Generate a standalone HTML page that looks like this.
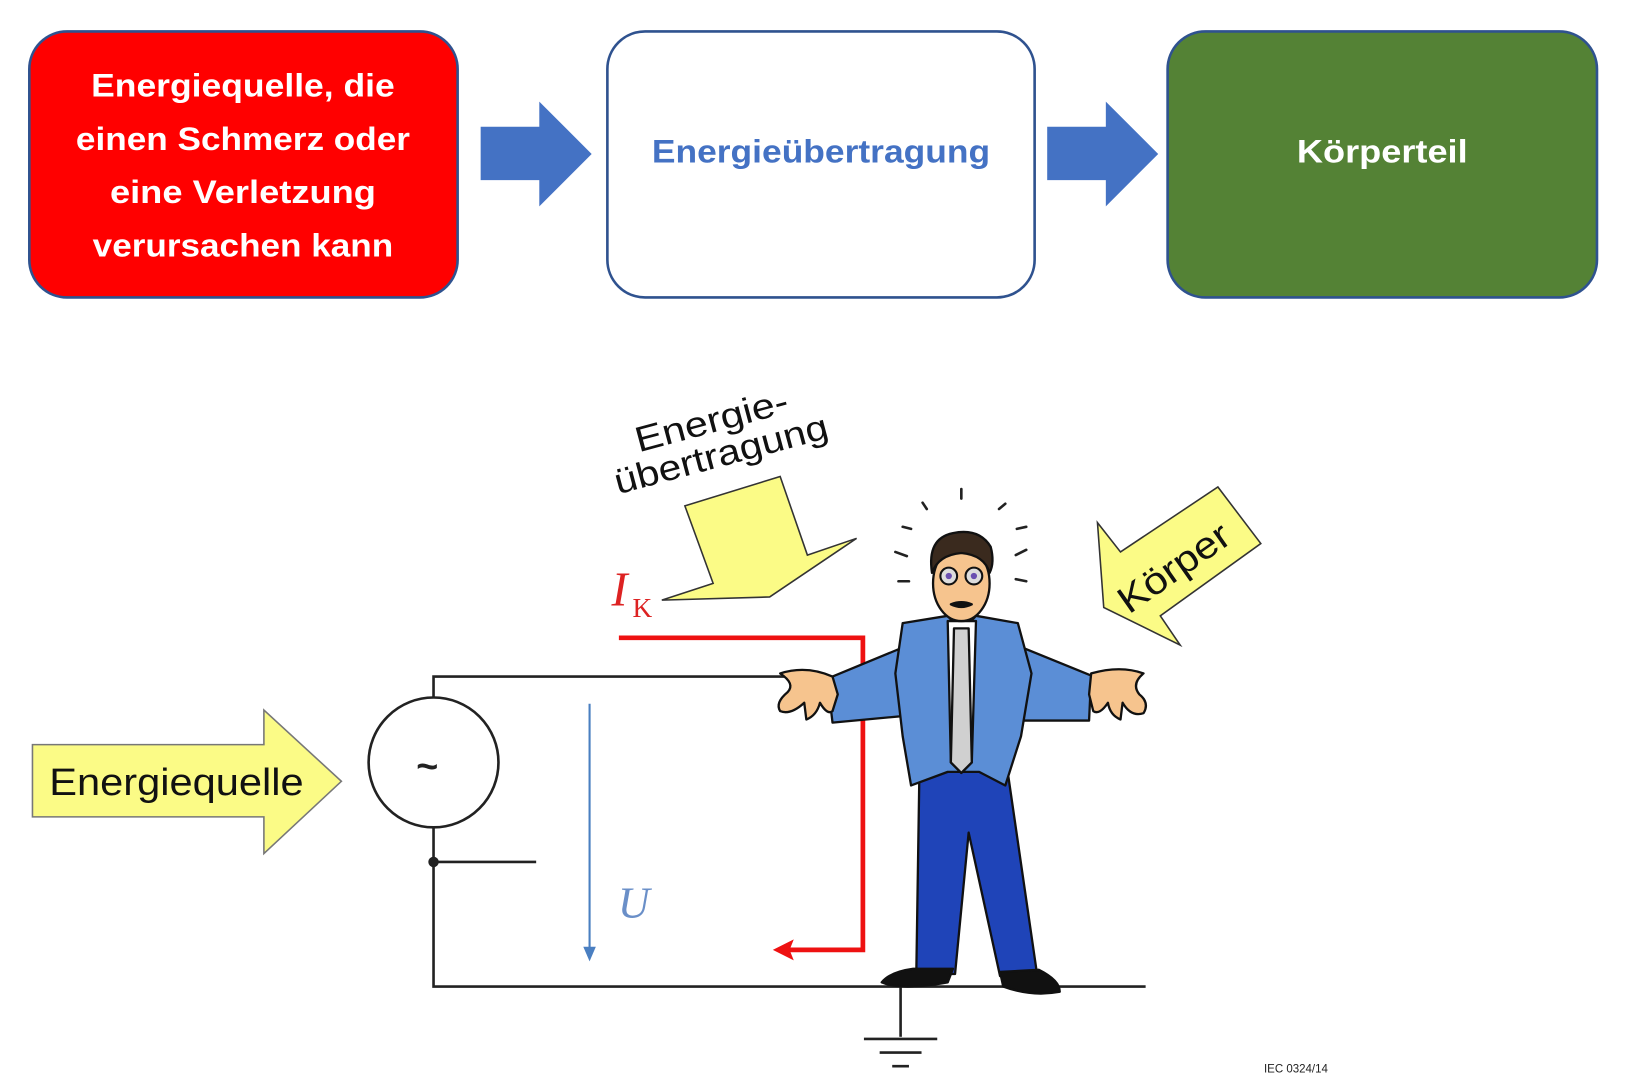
<!DOCTYPE html>
<html><head><meta charset="utf-8"><style>
html,body{margin:0;padding:0;background:#fff;}
svg{display:block;}
</style></head><body>
<svg width="1642" height="1085" viewBox="0 0 1568 1036" preserveAspectRatio="none" xmlns="http://www.w3.org/2000/svg">
<rect width="1568" height="1036" fill="#fff"/>
<!-- top row -->
<rect x="28" y="30" width="409" height="254" rx="36" fill="#ff0000" stroke="#2f528f" stroke-width="2.5"/>
<g font-family="Liberation Sans, sans-serif" font-weight="bold" font-size="31" fill="#fff" text-anchor="middle" lengthAdjust="spacingAndGlyphs">
<text x="232" y="92" textLength="290" lengthAdjust="spacingAndGlyphs">Energiequelle, die</text>
<text x="232" y="143" textLength="319" lengthAdjust="spacingAndGlyphs">einen Schmerz oder</text>
<text x="232" y="194" textLength="254" lengthAdjust="spacingAndGlyphs">eine Verletzung</text>
<text x="232" y="245" textLength="287" lengthAdjust="spacingAndGlyphs">verursachen kann</text>
</g>
<polygon points="459,121 515,121 515,97 565,147 515,197 515,172 459,172" fill="#4472c4"/>
<rect x="580" y="30" width="408" height="254" rx="36" fill="#fff" stroke="#2f528f" stroke-width="2.5"/>
<text x="784" y="155" font-family="Liberation Sans, sans-serif" font-weight="bold" font-size="31" fill="#4472c4" text-anchor="middle" textLength="323" lengthAdjust="spacingAndGlyphs">Energieübertragung</text>
<polygon points="1000,121 1056,121 1056,97 1106,147 1056,197 1056,172 1000,172" fill="#4472c4"/>
<rect x="1115" y="30" width="410" height="254" rx="36" fill="#548235" stroke="#2f528f" stroke-width="2.5"/>
<text x="1320" y="155" font-family="Liberation Sans, sans-serif" font-weight="bold" font-size="31" fill="#fff" text-anchor="middle" textLength="163" lengthAdjust="spacingAndGlyphs">Körperteil</text>

<!-- Energiequelle arrow -->
<polygon points="31,711 252,711 252,678 326,746 252,815 252,780 31,780" fill="#fbfb86" stroke="#777" stroke-width="1.5"/>
<text x="47" y="759" font-family="Liberation Sans, sans-serif" font-size="36" fill="#111" textLength="243" lengthAdjust="spacingAndGlyphs">Energiequelle</text>

<!-- circuit -->
<g stroke="#222" stroke-width="2.5" fill="none">
<circle cx="414" cy="728" r="62" fill="#fff"/>
<polyline points="414,666 414,646 750,646"/>
<polyline points="414,790 414,942 1094,942"/>
<line x1="414" y1="823" x2="512" y2="823"/>
<line x1="860" y1="942" x2="860" y2="990"/>
<line x1="825" y1="992" x2="895" y2="992"/>
<line x1="840" y1="1005" x2="880" y2="1005"/>
<line x1="852" y1="1018" x2="868" y2="1018"/>
</g>
<circle cx="414" cy="823" r="5" fill="#222"/>
<text x="408" y="744" font-family="Liberation Sans, sans-serif" font-size="36" font-weight="bold" fill="#222" text-anchor="middle">~</text>

<!-- U arrow -->
<line x1="563" y1="672" x2="563" y2="908" stroke="#4a7fc1" stroke-width="2"/>
<polygon points="557,904 563,918 569,904" fill="#4a7fc1"/>
<text x="590" y="876" font-family="Liberation Serif, serif" font-style="italic" font-size="42" fill="#6a8fc8">U</text>

<!-- red current -->
<polyline points="591,609 824,609 824,907 752,907" fill="none" stroke="#ee1111" stroke-width="4.5"/>
<polygon points="738,907 758,897 754,907 758,917" fill="#ee1111"/>
<text x="584" y="578" font-family="Liberation Serif, serif" font-style="italic" font-size="46" fill="#dd2222">I</text>
<text x="604" y="589" font-family="Liberation Serif, serif" font-size="26" fill="#dd2222">K</text>

<!-- Energieübertragung arrow -->
<polygon points="654,483 745,455 771,530 818,514 735,570 632,573 681,557" fill="#fbfb86" stroke="#333" stroke-width="1.5"/>
<g font-family="Liberation Sans, sans-serif" font-size="34" fill="#111">
<text x="610" y="432" transform="rotate(-15 610 432)" textLength="150" lengthAdjust="spacingAndGlyphs">Energie-</text>
<text x="590" y="472" transform="rotate(-15 590 472)" textLength="210" lengthAdjust="spacingAndGlyphs">übertragung</text>
</g>

<!-- Körper arrow -->
<polygon points="1048,499 1070,527 1163,465 1204,519 1108,588 1127,616 1054,580" fill="#fbfb86" stroke="#333" stroke-width="1.5"/>
<text x="1128" y="552" font-family="Liberation Sans, sans-serif" font-size="36" fill="#111" text-anchor="middle" transform="rotate(-35 1128 552)" textLength="122" lengthAdjust="spacingAndGlyphs">Körper</text>

<!-- rays -->
<g stroke="#222" stroke-width="2.5" stroke-linecap="round">
<line x1="918" y1="467" x2="918" y2="476"/>
<line x1="881" y1="480" x2="885" y2="486"/>
<line x1="954" y1="486" x2="960" y2="481"/>
<line x1="862" y1="503" x2="870" y2="505"/>
<line x1="971" y1="505" x2="980" y2="503"/>
<line x1="855" y1="527" x2="866" y2="531"/>
<line x1="970" y1="530" x2="980" y2="525"/>
<line x1="858" y1="555" x2="868" y2="555"/>
<line x1="970" y1="553" x2="980" y2="555"/>
</g>

<!-- man -->
<g stroke="#111" stroke-width="2.2" stroke-linejoin="round">
<polygon points="878,735 962,735 990,928 955,932 925,795 912,930 875,930" fill="#1f44b8"/>
<path d="M872,925 Q850,928 842,938 Q860,946 905,938 L910,925 Z" fill="#111"/>
<path d="M955,928 L992,926 Q1012,936 1012,947 Q985,952 958,942 Z" fill="#111"/>
<polygon points="870,615 790,648 795,690 870,683" fill="#5b8ed6"/>
<polygon points="968,615 1042,645 1040,688 968,688" fill="#5b8ed6"/>
<path d="M795,646 Q770,635 745,643 Q760,653 752,661 Q740,671 745,679 Q755,683 768,671 L770,687 Q780,683 783,671 Q790,683 795,679 L800,663 Z" fill="#f6c48e"/>
<path d="M1042,643 Q1070,635 1092,643 Q1080,653 1088,663 Q1098,671 1092,681 Q1080,685 1072,671 L1070,687 Q1060,683 1058,671 Q1050,683 1044,679 L1040,663 Z" fill="#f6c48e"/>
<polygon points="862,595 905,588 918,603 932,588 972,595 985,643 975,703 960,750 935,737 905,737 870,750 862,703 855,643" fill="#5b8ed6"/>
<polygon points="905,593 932,593 928,728 918,738 908,728" fill="#fff"/>
<polygon points="911,600 925,600 928,728 918,738 908,728" fill="#d0d0d0"/>
<ellipse cx="918" cy="557" rx="27" ry="36" fill="#f6c48e"/>
<path d="M890,547 Q885,514 910,509 Q935,504 946,522 Q950,537 945,547 Q940,530 918,528 Q896,530 890,547 Z" fill="#3a2a1e"/>
<circle cx="906" cy="550" r="8" fill="#ddd" stroke-width="2"/>
<circle cx="930" cy="550" r="8" fill="#ddd" stroke-width="2"/>
<circle cx="906" cy="550" r="3" fill="#6a4fb0" stroke="none"/>
<circle cx="930" cy="550" r="3" fill="#6a4fb0" stroke="none"/>
<path d="M908,577 Q918,573 928,577 Q918,582 908,577 Z" fill="#111"/>
</g>

<text x="1207" y="1024" font-family="Liberation Sans, sans-serif" font-size="11" fill="#222">IEC 0324/14</text>
</svg>
</body></html>
